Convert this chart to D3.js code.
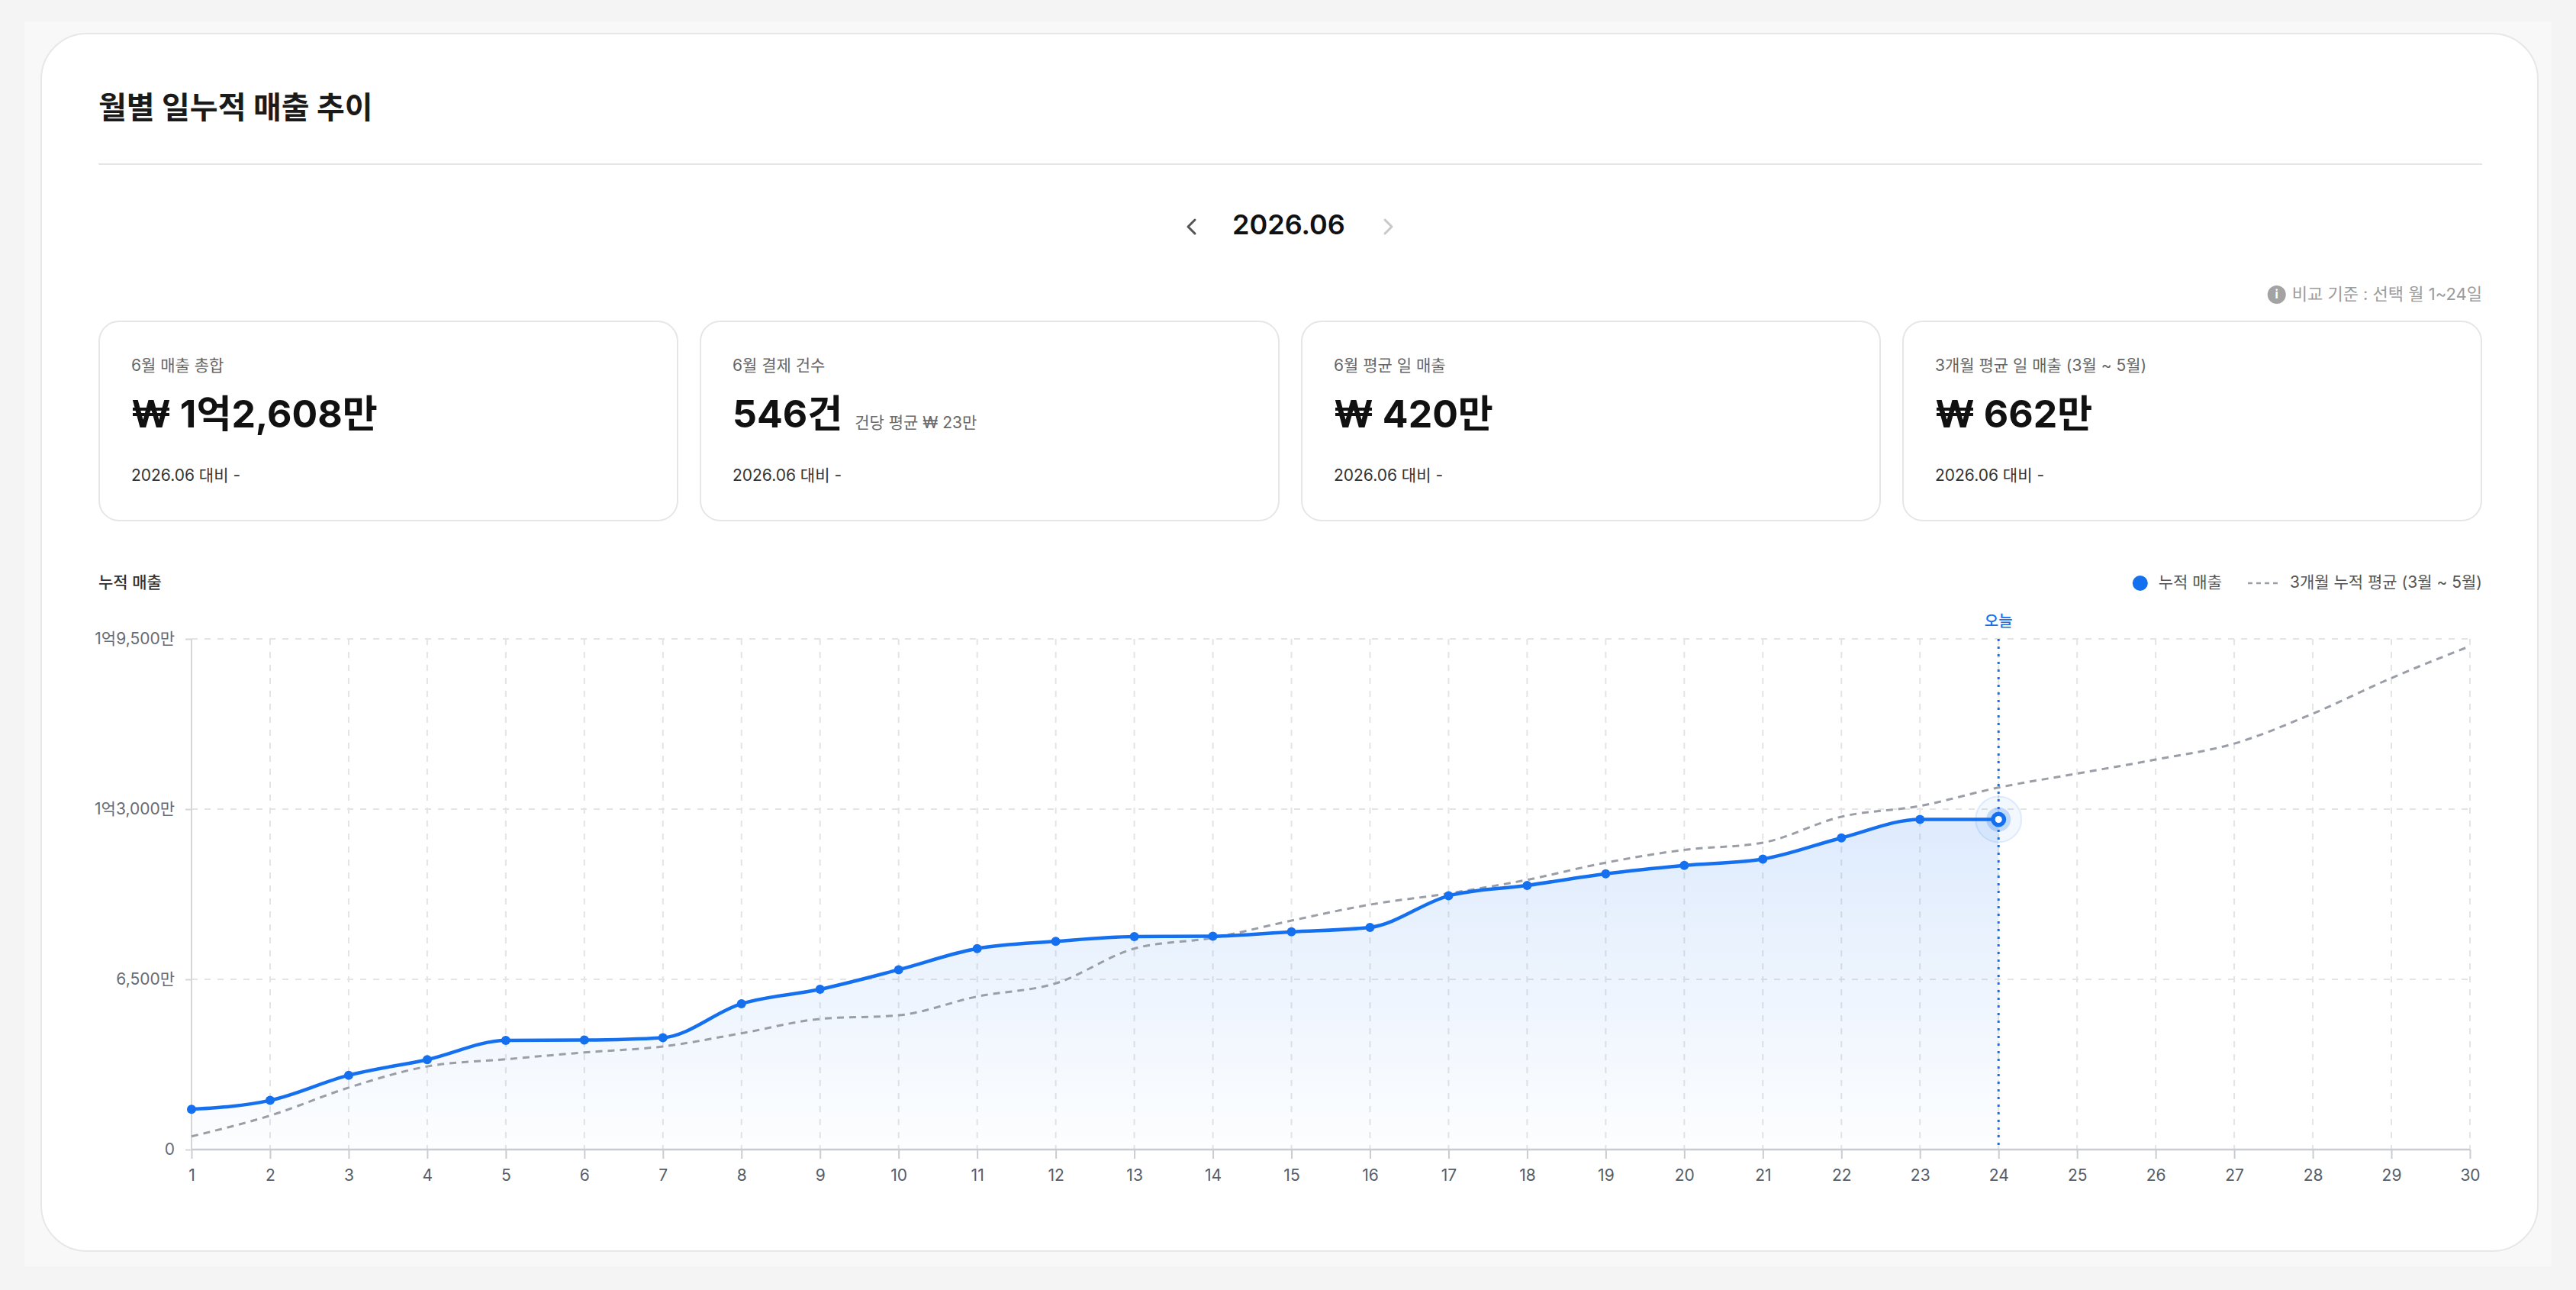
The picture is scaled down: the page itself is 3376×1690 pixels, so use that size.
<!DOCTYPE html>
<html lang="ko">
<head>
<meta charset="utf-8">
<title>월별 일누적 매출 추이</title>
<script src="https://cdn.jsdelivr.net/npm/d3@7"></script>
<style>
  html, body { margin: 0; padding: 0; background: #f4f4f4; }
  svg { display: block; font-family: Inter, "Noto Sans CJK KR", sans-serif; }
  .axis-x .domain, .axis-y .domain { display: none; }
</style>
</head>
<body>
<div id="chart"></div>
<script>
// Days of the month (x categories)
const days = [1, 2, 3, 4, 5, 6, 7, 8, 9, 10, 11, 12, 13, 14, 15, 16, 17, 18, 19, 20, 21, 22, 23, 24, 25, 26, 27, 28, 29, 30];

// Cumulative sales in 만원, days 1 - 24
const cumulativeSales = [1540, 1877, 2838, 3433, 4166, 4181, 4272, 5569, 6119, 6866, 7675, 7950, 8133, 8145, 8316, 8484, 9689, 10086, 10528, 10849, 11093, 11901, 12608, 12608];

// 3-month cumulative average (3월 ~ 5월) in 만원, days 1 - 30
const threeMonthAverage = [503, 1297, 2365, 3174, 3448, 3708, 3937, 4440, 4989, 5127, 5844, 6347, 7675, 8087, 8743, 9353, 9780, 10300, 10955, 11444, 11718, 12710, 13122, 13824, 14358, 14892, 15502, 16646, 18005, 19225];

// Y axis ticks (만원)
const yTicks = [0, 6500, 13000, 19500];
const today = 24;

// KPI cards
const kpiLabels = ["6월 매출 총합", "6월 결제 건수", "6월 평균 일 매출", "3개월 평균 일 매출 (3월 ~ 5월)"];
const kpiValues = ["₩ 1억2,608만", "546건", "₩ 420만", "₩ 662만"];
const kpiNotes = ["", "건당 평균 ₩ 23만", "", ""];
const kpiCompare = ["2026.06 대비 -", "2026.06 대비 -", "2026.06 대비 -", "2026.06 대비 -"];

const width = 3376;
const height = 1690;
const blue = "#1570ef";
const gray = "#9a9ea6";

const svg = d3.select("#chart")
  .append("svg")
    .attr("width", width)
    .attr("height", height)
    .attr("viewBox", `0 0 ${width} ${height}`);

/*******************************/
/*    Panel and card frame     */
/*******************************/
svg.append("rect")
    .attr("x", 32).attr("y", 28)
    .attr("width", 3312).attr("height", 1631)
    .attr("fill", "#f8f8f8");

svg.append("rect")
    .attr("x", 54).attr("y", 44)
    .attr("width", 3272).attr("height", 1595)
    .attr("rx", 60)
    .attr("fill", "#fff")
    .attr("stroke", "#e7e7e7")
    .attr("stroke-width", 2);

svg.append("text")
    .text("월별 일누적 매출 추이")
    .attr("x", 129).attr("y", 144)
    .attr("dominant-baseline", "middle")
    .attr("fill", "#1a1a1a")
    .style("font-size", "40px")
    .style("font-weight", 700);

svg.append("line")
    .attr("x1", 129).attr("x2", 3253)
    .attr("y1", 215).attr("y2", 215)
    .attr("stroke", "#e6e6e6")
    .attr("stroke-width", 2);

// Month navigation
svg.append("text")
    .text("2026.06")
    .attr("x", 1689).attr("y", 297)
    .attr("text-anchor", "middle")
    .attr("dominant-baseline", "middle")
    .attr("fill", "#111")
    .style("font-size", "36px")
    .style("font-weight", 600);
svg.append("path")
    .attr("d", "M1566,288 L1557,297 L1566,306")
    .attr("fill", "none")
    .attr("stroke", "#555")
    .attr("stroke-width", 3)
    .attr("stroke-linecap", "round")
    .attr("stroke-linejoin", "round");
svg.append("path")
    .attr("d", "M1815,288 L1824,297 L1815,306")
    .attr("fill", "none")
    .attr("stroke", "#c9c9c9")
    .attr("stroke-width", 3)
    .attr("stroke-linecap", "round")
    .attr("stroke-linejoin", "round");

// Comparison note
const note = svg.append("text")
    .text("비교 기준 : 선택 월 1~24일")
    .attr("x", 3253).attr("y", 387)
    .attr("text-anchor", "end")
    .attr("dominant-baseline", "middle")
    .attr("fill", "#9b9b9b")
    .style("font-size", "22px");
const noteW = note.node().getComputedTextLength();
svg.append("circle")
    .attr("cx", 3253 - noteW - 20).attr("cy", 386)
    .attr("r", 12)
    .attr("fill", "#a3a3a3");
svg.append("text")
    .text("i")
    .attr("x", 3253 - noteW - 20).attr("y", 387)
    .attr("text-anchor", "middle")
    .attr("dominant-baseline", "middle")
    .attr("fill", "#fff")
    .style("font-size", "16px")
    .style("font-weight", 700);

/*******************************/
/*          KPI cards          */
/*******************************/
const cardW = 760, cardGap = 28, cardY = 420, cardH = 263;
const cards = svg.selectAll(".kpi")
  .data(kpiLabels)
  .join("g")
    .attr("class", "kpi")
    .attr("transform", (d, i) => `translate(${129 + i * (cardW + cardGap)}, ${cardY})`);

cards.append("rect")
    .attr("x", 1).attr("y", 1)
    .attr("width", cardW - 2).attr("height", cardH - 2)
    .attr("rx", 26)
    .attr("fill", "#fff")
    .attr("stroke", "#e6e6e6")
    .attr("stroke-width", 2);

cards.append("text")
    .text(d => d)
    .attr("x", 43).attr("y", 60)
    .attr("dominant-baseline", "middle")
    .attr("fill", "#666")
    .style("font-size", "21px");

const values = cards.append("text")
    .text((d, i) => kpiValues[i])
    .attr("x", 43).attr("y", 140)
    .attr("fill", "#111")
    .style("font-size", "50px")
    .style("font-weight", 700);

cards.append("text")
    .text((d, i) => kpiNotes[i])
    .attr("x", (d, i) => 43 + values.nodes()[i].getComputedTextLength() + 16)
    .attr("y", 141)
    .attr("fill", "#6a6a6a")
    .style("font-size", "21px");

cards.append("text")
    .text((d, i) => kpiCompare[i])
    .attr("x", 43).attr("y", 204)
    .attr("dominant-baseline", "middle")
    .attr("fill", "#333")
    .style("font-size", "21px");

/****************************/
/*    Declare the scales    */
/****************************/
const xScale = d3.scaleLinear()
  .domain([1, 30])
  .range([251, 3237]);

const yScale = d3.scaleLinear()
  .domain([0, 19500])
  .range([1506, 837]);

const formatMan = v => {
  if (v === 0) return "0";
  const eok = Math.floor(v / 10000);
  const man = d3.format(",")(v % 10000);
  return eok > 0 ? `${eok}억${man}만` : `${man}만`;
};

/***************************/
/*   Chart header/legend   */
/***************************/
svg.append("text")
    .text("누적 매출")
    .attr("x", 129).attr("y", 764)
    .attr("dominant-baseline", "middle")
    .attr("fill", "#333")
    .style("font-size", "21px")
    .style("font-weight", 500);

const legendAvg = svg.append("text")
    .text("3개월 누적 평균 (3월 ~ 5월)")
    .attr("x", 3253).attr("y", 764)
    .attr("text-anchor", "end")
    .attr("dominant-baseline", "middle")
    .attr("fill", "#555")
    .style("font-size", "21px");
const avgW = legendAvg.node().getComputedTextLength();
const dashEnd = 3253 - avgW - 13;
svg.append("line")
    .attr("x1", dashEnd - 42).attr("x2", dashEnd)
    .attr("y1", 764).attr("y2", 764)
    .attr("stroke", gray)
    .attr("stroke-width", 2.5)
    .attr("stroke-dasharray", "6 5");
const legendCum = svg.append("text")
    .text("누적 매출")
    .attr("x", dashEnd - 76).attr("y", 764)
    .attr("text-anchor", "end")
    .attr("dominant-baseline", "middle")
    .attr("fill", "#555")
    .style("font-size", "21px");
const cumW = legendCum.node().getComputedTextLength();
svg.append("circle")
    .attr("cx", dashEnd - 76 - cumW - 24).attr("cy", 764)
    .attr("r", 10)
    .attr("fill", blue);

/***************************/
/*     Grid and axes       */
/***************************/
const chart = svg.append("g");

// Vertical dashed gridlines
chart.selectAll(".grid-v")
  .data(days)
  .join("line")
    .attr("class", "grid-v")
    .attr("x1", d => xScale(d)).attr("x2", d => xScale(d))
    .attr("y1", yScale(19500)).attr("y2", yScale(0))
    .attr("stroke", "#e4e4e4")
    .attr("stroke-width", 2)
    .attr("stroke-dasharray", "8 9");

// Horizontal dashed gridlines
chart.selectAll(".grid-h")
  .data(yTicks.slice(1))
  .join("line")
    .attr("class", "grid-h")
    .attr("x1", xScale(1)).attr("x2", xScale(30))
    .attr("y1", d => yScale(d)).attr("y2", d => yScale(d))
    .attr("stroke", "#e4e4e4")
    .attr("stroke-width", 2)
    .attr("stroke-dasharray", "8 9");

// Axis lines
chart.append("line")
    .attr("x1", xScale(1)).attr("x2", xScale(1))
    .attr("y1", yScale(19500)).attr("y2", yScale(0))
    .attr("stroke", "#d6d6d6")
    .attr("stroke-width", 2);
chart.append("line")
    .attr("x1", xScale(1)).attr("x2", xScale(30))
    .attr("y1", yScale(0)).attr("y2", yScale(0))
    .attr("stroke", "#c9ccd1")
    .attr("stroke-width", 2.5);

// Bottom axis
const bottomAxis = d3.axisBottom(xScale)
  .tickValues(days)
  .tickFormat(d3.format("d"))
  .tickSize(12)
  .tickPadding(14);
const gx = chart.append("g")
    .attr("class", "axis-x")
    .attr("transform", `translate(0, ${yScale(0)})`)
    .call(bottomAxis);
gx.selectAll(".tick line")
    .attr("stroke", "#c9ccd1")
    .attr("stroke-width", 2);
gx.selectAll("text")
    .attr("fill", "#555d68")
    .style("font-size", "21px")
    .style("font-family", "Inter, 'Noto Sans CJK KR', sans-serif");

// Left axis
const leftAxis = d3.axisLeft(yScale)
  .tickValues(yTicks)
  .tickFormat(formatMan)
  .tickSize(8)
  .tickPadding(14);
const gy = chart.append("g")
    .attr("class", "axis-y")
    .attr("transform", `translate(${xScale(1)}, 0)`)
    .call(leftAxis);
gy.selectAll(".tick line")
    .attr("stroke", "#d6d6d6")
    .attr("stroke-width", 2);
gy.selectAll("text")
    .attr("fill", "#666c75")
    .style("font-size", "21px")
    .style("font-family", "Inter, 'Noto Sans CJK KR', sans-serif");

/******************************/
/*      Area and lines        */
/******************************/
const salesData = cumulativeSales.map((v, i) => ({ day: days[i], value: v }));
const avgData = threeMonthAverage.map((v, i) => ({ day: days[i], value: v }));

const defs = svg.append("defs");
const grad = defs.append("linearGradient")
    .attr("id", "areaGrad")
    .attr("x1", 0).attr("y1", 0)
    .attr("x2", 0).attr("y2", 1);
grad.append("stop").attr("offset", "0%").attr("stop-color", blue).attr("stop-opacity", 0.14);
grad.append("stop").attr("offset", "100%").attr("stop-color", blue).attr("stop-opacity", 0.01);

const area = d3.area()
  .x(d => xScale(d.day))
  .y0(yScale(0))
  .y1(d => yScale(d.value))
  .curve(d3.curveMonotoneX);

const line = d3.line()
  .x(d => xScale(d.day))
  .y(d => yScale(d.value))
  .curve(d3.curveMonotoneX);

chart.append("path")
    .datum(salesData)
    .attr("d", area)
    .attr("fill", "url(#areaGrad)");

chart.append("path")
    .datum(avgData)
    .attr("d", line)
    .attr("fill", "none")
    .attr("stroke", gray)
    .attr("stroke-width", 3)
    .attr("stroke-dasharray", "9 7");

// Today marker
chart.append("line")
    .attr("x1", xScale(today)).attr("x2", xScale(today))
    .attr("y1", yScale(19500)).attr("y2", yScale(0))
    .attr("stroke", blue)
    .attr("stroke-width", 3)
    .attr("stroke-dasharray", "3 7");
chart.append("text")
    .text("오늘")
    .attr("x", xScale(today)).attr("y", 816)
    .attr("text-anchor", "middle")
    .attr("dominant-baseline", "middle")
    .attr("fill", blue)
    .style("font-size", "20px")
    .style("font-weight", 500);

chart.append("path")
    .datum(salesData)
    .attr("d", line)
    .attr("fill", "none")
    .attr("stroke", blue)
    .attr("stroke-width", 4.5);

chart.selectAll(".point")
  .data(salesData.filter(d => d.day !== today))
  .join("circle")
    .attr("class", "point")
    .attr("cx", d => xScale(d.day))
    .attr("cy", d => yScale(d.value))
    .attr("r", 6)
    .attr("fill", blue);

// Highlighted today point
const last = salesData.find(d => d.day === today);
const hx = xScale(last.day), hy = yScale(last.value);
chart.append("circle")
    .attr("cx", hx).attr("cy", hy).attr("r", 30)
    .attr("fill", blue).attr("fill-opacity", 0.05)
    .attr("stroke", blue).attr("stroke-opacity", 0.12).attr("stroke-width", 2);
chart.append("circle")
    .attr("cx", hx).attr("cy", hy).attr("r", 16)
    .attr("fill", blue).attr("fill-opacity", 0.22);
chart.append("circle")
    .attr("cx", hx).attr("cy", hy).attr("r", 10)
    .attr("fill", blue);
chart.append("circle")
    .attr("cx", hx).attr("cy", hy).attr("r", 4.5)
    .attr("fill", "#fff");
</script>
</body>
</html>
